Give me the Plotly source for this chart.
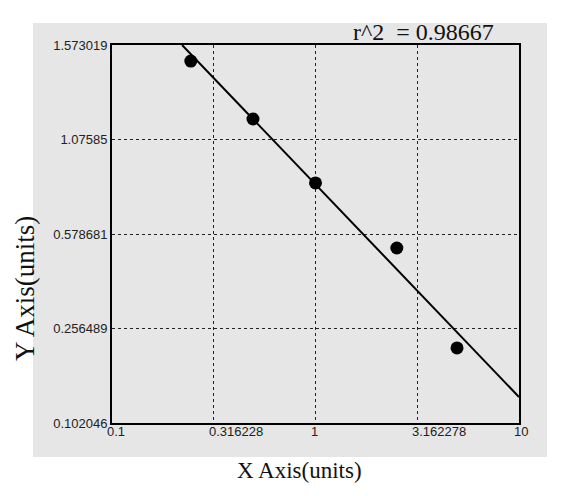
import math
import plotly.graph_objects as go

# data
x_vals = [0.244, 0.493, 1.0, 2.51, 4.96]
y_pos = [3.83, 3.217, 2.54, 1.852, 0.794]   # position on the evenly spaced y scale
fit_x = [0.221, 10.0]
fit_y = [4.0, 0.275]
x_ticks = [0.1, 0.316228, 1, 3.162278, 10]
x_tick_text = ["0.1", "0.316228", "1", "3.162278", "10"]
y_ticks = [0, 1, 2, 3, 4]
y_tick_text = ["0.102046", "0.256489", "0.578681", "1.07585", "1.573019"]
r2_text = "r^2  = 0.98667"

OFF = 8  # default page body margin
W, H = 577 - 2 * OFF, 496 - 2 * OFF
L, R, T, B = 112, 519, 45, 423  # plot area in page pixels

fig = go.Figure()
fig.add_trace(go.Scatter(x=fit_x, y=fit_y, mode="lines",
                         line=dict(color="black", width=2), showlegend=False))
fig.add_trace(go.Scatter(x=x_vals, y=y_pos, mode="markers",
                         marker=dict(color="black", size=13), showlegend=False))

def px(v):
    return (v - L) / (R - L)

def py(v):
    return (B - v) / (B - T)

fig.add_shape(type="rect", xref="paper", yref="paper",
              x0=px(33), x1=px(547), y0=py(457), y1=py(23),
              fillcolor="#e6e6e6", line=dict(width=0), layer="below")

tick_font = dict(family="Liberation Sans", size=13, color="#222222")
axis_common = dict(showline=True, linecolor="black", linewidth=2, mirror=True,
                   showgrid=True, gridcolor="#222222", griddash="dot", gridwidth=1,
                   zeroline=False, ticks="", tickfont=tick_font)

fig.update_xaxes(type="log", range=[-1, 1], tickvals=x_ticks, ticktext=x_tick_text,
                 showticklabels=False, **axis_common)
fig.update_yaxes(range=[0, 4], tickvals=y_ticks, ticktext=y_tick_text, **axis_common)

# x tick labels: left-aligned just before each tick, as in the reference
for v, t in zip(x_ticks, x_tick_text):
    fig.add_annotation(text=t, x=math.log10(v), xref="x", y=py(431), yref="paper",
                       showarrow=False, xanchor="left", yanchor="middle", xshift=-7,
                       font=tick_font)

fig.add_annotation(text=r2_text, xref="paper", yref="paper", x=px(423), y=py(32),
                   showarrow=False, xanchor="center", yanchor="middle",
                   font=dict(family="Liberation Serif", size=24, color="#111111"))
fig.add_annotation(text="X Axis(units)", xref="paper", yref="paper", x=px(299), y=py(470),
                   showarrow=False, xanchor="center", yanchor="middle",
                   font=dict(family="Liberation Serif", size=23, color="#111111"))
fig.add_annotation(text="Y Axis(units)", xref="paper", yref="paper", x=px(25), y=py(289),
                   showarrow=False, xanchor="center", yanchor="middle", textangle=-90,
                   font=dict(family="Liberation Serif", size=27, color="#111111"))

fig.update_layout(width=W, height=H,
                  margin=dict(l=L - OFF, r=W - (R - OFF), t=T - OFF, b=H - (B - OFF)),
                  paper_bgcolor="white", plot_bgcolor="#e9e9e9")

fig.write_html("out.html")
